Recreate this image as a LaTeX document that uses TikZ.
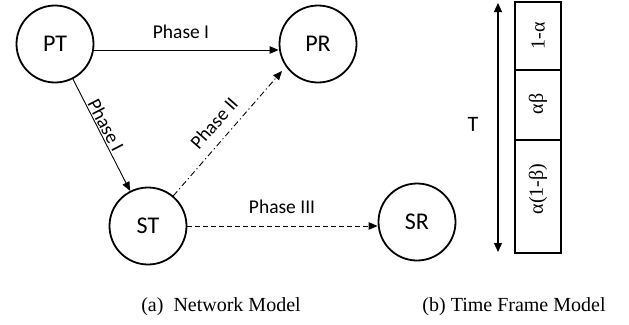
\documentclass[tikz,border=0pt]{standalone}
\usepackage{fontspec}
\setmainfont{Carlito}
\newfontfamily\capfont{Liberation Serif}
\usetikzlibrary{arrows.meta,calc}
\tikzset{
  station/.style={circle,draw,line width=1.8pt,minimum size=77pt,inner sep=0pt,font=\fontsize{24}{28}\selectfont},
  lbl/.style={font=\fontsize{19.5}{23}\selectfont,inner sep=0pt},
  captext/.style={font=\capfont\fontsize{20}{24}\selectfont,inner sep=0pt},
  slot/.style={draw,line width=1.1pt,minimum width=46pt,inner sep=0pt},
  slottxt/.style={font=\capfont\fontsize{20}{24}\selectfont,rotate=90,inner sep=0pt},
  arr/.style={line width=0.9pt,-{Triangle[length=9pt,width=7.5pt]}},
}
\begin{document}
\begin{tikzpicture}[x=1pt,y=-1pt]
\useasboundingbox (0,0) rectangle (629,324);
% stations
\node[station] (PT) at (55,44) {PT};
\node[station] (PR) at (318,44) {PR};
\node[station] (ST) at (148,226) {ST};
\node[station] (SR) at (417,222) {SR};
% connectors
\draw[arr] ([yshift=-6pt]PT.east) -- ([yshift=-6pt]PR.west);
\draw[arr] (PT) -- (ST);
\draw[arr,dash pattern=on 6pt off 3pt on 1.2pt off 3pt] (ST.50) -- ([shift={(-36pt,-27pt)}]PR.center);
\draw[arr,dash pattern=on 5pt off 3pt] (ST.east) -- (SR.west |- ST.east);
% labels
\node[lbl] (l1) at (181,32) {Phase I};
\node[lbl,rotate=-62.6] (l2) at (106,125) {Phase I};
\node[lbl,rotate=48.7] (l3) at (214,123) {Phase II};
\node[lbl] (l4) at (282,207) {Phase III};
% time frame
\node[slot,minimum height=68pt] (f1) at (538,36) {};
\node[slot,minimum height=70pt] (f2) at (538,105) {};
\node[slot,minimum height=113pt] (f3) at (538,196.5) {};
\node[slottxt] (t1) at (538,36) {1-α};
\node[slottxt] (t2) at (538,104) {αβ};
\node[slottxt] (t3) at (538,189) {α(1-β)};
\coordinate (atop) at (498,3);
\coordinate (abot) at (498,252);
\draw[line width=1.1pt,{Triangle[length=9pt,width=8pt]}-{Triangle[length=9pt,width=8pt]}] (atop) -- (abot);
\node[lbl,font=\fontsize{22}{26}\selectfont] (T) at (473,124) {T};
% captions
\node[captext] (ca) at (221,307) {(a)\ \ Network Model};
\node[captext] (cb) at (514,307) {(b) Time Frame Model};
\end{tikzpicture}
\end{document}
